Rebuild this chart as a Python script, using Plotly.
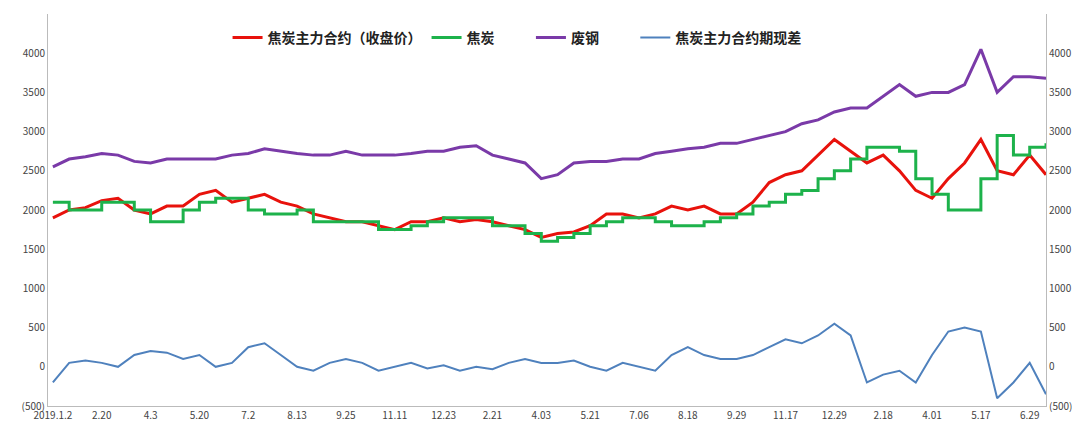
import plotly.graph_objects as go

# ~3 samples per labelled interval
futures = [1900, 2000, 2030, 2120, 2150, 2000, 1950, 2050, 2050, 2200, 2250, 2100, 2150, 2200, 2100, 2050,
           1950, 1900, 1850, 1850, 1800, 1750, 1850, 1850, 1900, 1850, 1880, 1850, 1800, 1750, 1650, 1700,
           1720, 1800, 1950, 1950, 1900, 1950, 2050, 2000, 2050, 1950, 1950, 2100, 2350, 2450, 2500, 2700,
           2900, 2750, 2600, 2700, 2500, 2250, 2150, 2400, 2600, 2900, 2500, 2450, 2700, 2450]
spot = [2100, 2000, 2000, 2100, 2100, 2000, 1850, 1850, 2000, 2100, 2150, 2150, 2000, 1950, 1950, 2000,
        1850, 1850, 1850, 1850, 1750, 1750, 1800, 1850, 1900, 1900, 1900, 1800, 1800, 1700, 1600, 1650,
        1700, 1800, 1850, 1900, 1900, 1850, 1800, 1800, 1850, 1900, 1950, 2050, 2100, 2200, 2250, 2400,
        2500, 2650, 2800, 2800, 2750, 2400, 2200, 2000, 2000, 2400, 2950, 2700, 2800, 2850]
scrap = [2550, 2650, 2680, 2720, 2700, 2620, 2600, 2650, 2650, 2650, 2650, 2700, 2720, 2780, 2750, 2720,
         2700, 2700, 2750, 2700, 2700, 2700, 2720, 2750, 2750, 2800, 2820, 2700, 2650, 2600, 2400, 2450,
         2600, 2620, 2620, 2650, 2650, 2720, 2750, 2780, 2800, 2850, 2850, 2900, 2950, 3000, 3100, 3150,
         3250, 3300, 3300, 3450, 3600, 3450, 3500, 3500, 3600, 4050, 3500, 3700, 3700, 3680]
basis = [-200, 50, 80, 50, 0, 150, 200, 180, 100, 150, 0, 50, 250, 300, 150, 0,
         -50, 50, 100, 50, -50, 0, 50, -20, 20, -50, 0, -30, 50, 100, 50, 50,
         80, 0, -50, 50, 0, -50, 150, 250, 150, 100, 100, 150, 250, 350, 300, 400,
         550, 400, -200, -100, -50, -200, 150, 450, 500, 450, -400, -200, 50, -350]
date_labels = ["2019.1.2", "2.20", "4.3", "5.20", "7.2", "8.13", "9.25", "11.11", "12.23", "2.21", "4.03",
               "5.21", "7.06", "8.18", "9.29", "11.17", "12.29", "2.18", "4.01", "5.17", "6.29"]
y_ticks = [-500, 0, 500, 1000, 1500, 2000, 2500, 3000, 3500, 4000, 4500]

idx = list(range(len(futures)))
y_text = ["(500)" if v < 0 else str(v) for v in y_ticks]

fig = go.Figure()
fig.add_trace(go.Scatter(x=idx, y=futures, name="<b>焦炭主力合约（收盘价）</b>", mode="lines",
                         line=dict(color="#E8120C", width=3)))
fig.add_trace(go.Scatter(x=idx, y=spot, name="<b>焦炭</b>          ", mode="lines",
                         line=dict(color="#1DB24B", width=3, shape="hv")))
fig.add_trace(go.Scatter(x=idx, y=scrap, name="<b>废钢</b>          ", mode="lines",
                         line=dict(color="#7A3AA8", width=3)))
fig.add_trace(go.Scatter(x=idx, y=basis, name="<b>焦炭主力合约期现差</b>", mode="lines",
                         line=dict(color="#4F81BD", width=2)))
fig.add_trace(go.Scatter(x=idx, y=basis, yaxis="y2", mode="lines", showlegend=False,
                         hoverinfo="skip", line=dict(width=0, color="rgba(0,0,0,0)")))

axis_font = dict(size=10, color="#444")
fig.update_layout(
    width=1080, height=424,
    margin=dict(l=40, r=42, t=6, b=26, autoexpand=False),
    paper_bgcolor="white", plot_bgcolor="white",
    font=dict(family="Noto Sans CJK SC", color="#222"),
    legend=dict(orientation="h", x=0.47, xanchor="center", y=0.98, yanchor="top",
                font=dict(size=14), bgcolor="rgba(0,0,0,0)"),
    xaxis=dict(range=[-0.3, len(idx) - 1], tickmode="array", tickvals=idx[::3][:len(date_labels)],
               ticktext=date_labels, showgrid=False, showline=True, linecolor="#bbb",
               tickfont=axis_font, zeroline=False, ticks=""),
    yaxis=dict(range=[-500, 4500], tickvals=y_ticks, ticktext=y_text, showgrid=False,
               showline=True, linecolor="#bbb", tickfont=axis_font, zeroline=False),
    yaxis2=dict(range=[-500, 4500], tickvals=y_ticks, ticktext=y_text, overlaying="y",
                side="right", showgrid=False, showline=True, linecolor="#bbb",
                tickfont=axis_font, zeroline=False),
)

fig.write_html("out.html")
